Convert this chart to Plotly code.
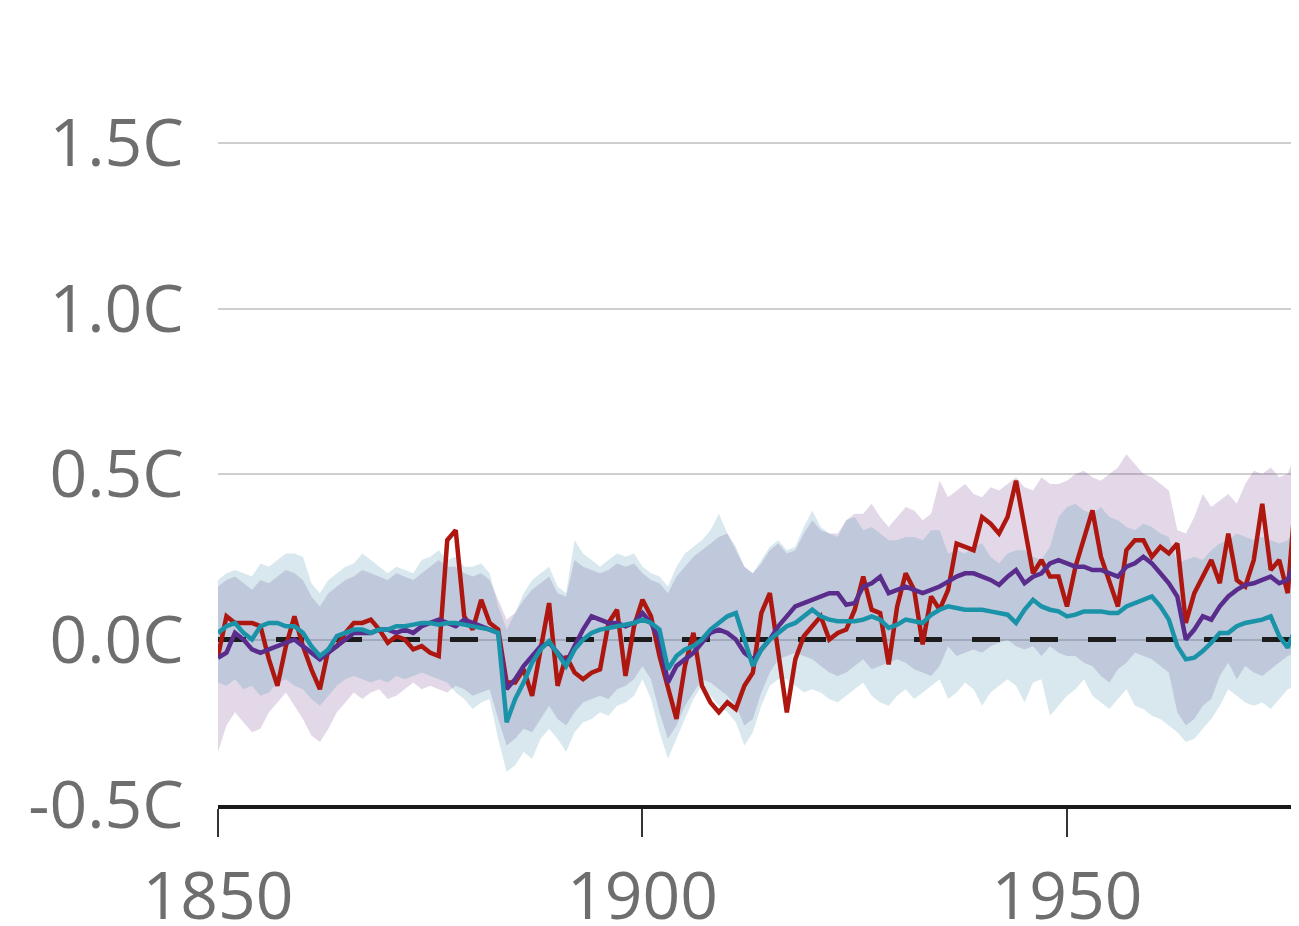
import plotly.graph_objects as go

years = list(range(1850, 1978))

observed = [
    -0.05, 0.07, 0.05, 0.05, 0.05, 0.04, -0.06, -0.14, -0.02, 0.07,
    -0.02, -0.09, -0.15, -0.03, -0.02, 0.02, 0.05, 0.05, 0.06, 0.03,
    -0.01, 0.01, 0.00, -0.03, -0.02, -0.04, -0.05, 0.30, 0.33, 0.07,
    0.03, 0.12, 0.05, 0.03, -0.13, -0.13, -0.09, -0.17, -0.03, 0.11,
    -0.14, -0.05, -0.10, -0.12, -0.10, -0.09, 0.05, 0.09, -0.11, 0.04,
    0.12, 0.07, -0.05, -0.15, -0.24, -0.08, 0.02, -0.14, -0.19, -0.22,
    -0.19, -0.21, -0.14, -0.10, 0.08, 0.14, -0.04, -0.22, -0.06, 0.01,
    0.04, 0.07, 0.00, 0.02, 0.03, 0.09, 0.19, 0.09, 0.08, -0.075,
    0.10, 0.20, 0.15, -0.015, 0.13, 0.09, 0.15, 0.29, 0.28, 0.27,
    0.37, 0.35, 0.32, 0.37, 0.48, 0.33, 0.20, 0.24, 0.19, 0.19,
    0.10, 0.22, 0.30, 0.39, 0.25, 0.17, 0.10, 0.27, 0.30, 0.30,
    0.25, 0.28, 0.26, 0.29, 0.05, 0.14, 0.19, 0.24, 0.17, 0.32,
    0.18, 0.16, 0.24, 0.41, 0.21, 0.24, 0.14, 0.46,
]

all_forcing = [
    -0.055, -0.04, 0.02, 0.00, -0.03, -0.04, -0.03, -0.02, -0.01, 0.00,
    -0.02, -0.04, -0.06, -0.04, -0.02, 0.00, 0.02, 0.02, 0.02, 0.03,
    0.03, 0.02, 0.03, 0.02, 0.04, 0.05, 0.06, 0.05, 0.04, 0.06,
    0.05, 0.04, 0.03, 0.02, -0.15, -0.12, -0.08, -0.05, -0.02, -0.01,
    -0.04, -0.07, -0.02, 0.03, 0.07, 0.06, 0.05, 0.05, 0.04, 0.05,
    0.08, 0.05, 0.00, -0.13, -0.08, -0.06, -0.04, -0.01, 0.02, 0.03,
    0.02, 0.00, -0.04, -0.06, -0.03, 0.00, 0.04, 0.07, 0.10, 0.11,
    0.12, 0.13, 0.14, 0.14, 0.105, 0.11, 0.16, 0.17, 0.19, 0.14,
    0.15, 0.16, 0.15, 0.14, 0.15, 0.16, 0.175, 0.19, 0.20, 0.20,
    0.19, 0.18, 0.165, 0.19, 0.21, 0.17, 0.19, 0.20, 0.23, 0.24,
    0.23, 0.22, 0.22, 0.21, 0.21, 0.20, 0.19, 0.22, 0.23, 0.25,
    0.23, 0.20, 0.17, 0.13, 0.00, 0.03, 0.07, 0.06, 0.10, 0.13,
    0.15, 0.165, 0.17, 0.18, 0.19, 0.17, 0.18, 0.24,
]

natural = [
    0.02, 0.04, 0.05, 0.02, 0.00, 0.04, 0.05, 0.05, 0.04, 0.04,
    0.02, -0.02, -0.05, -0.03, 0.01, 0.02, 0.03, 0.03, 0.02, 0.03,
    0.03, 0.04, 0.04, 0.045, 0.05, 0.05, 0.045, 0.05, 0.05, 0.045,
    0.04, 0.035, 0.03, 0.02, -0.25, -0.18, -0.13, -0.07, -0.03, -0.005,
    -0.04, -0.08, -0.03, 0.00, 0.02, 0.03, 0.035, 0.04, 0.045, 0.05,
    0.06, 0.05, 0.03, -0.09, -0.05, -0.03, -0.02, 0.00, 0.03, 0.05,
    0.07, 0.08, 0.00, -0.08, -0.03, 0.00, 0.02, 0.04, 0.05, 0.07,
    0.09, 0.07, 0.06, 0.055, 0.055, 0.055, 0.06, 0.07, 0.06, 0.035,
    0.045, 0.06, 0.055, 0.05, 0.075, 0.09, 0.10, 0.095, 0.09, 0.09,
    0.09, 0.085, 0.08, 0.075, 0.05, 0.09, 0.12, 0.10, 0.09, 0.085,
    0.07, 0.075, 0.085, 0.085, 0.085, 0.08, 0.08, 0.10, 0.11, 0.12,
    0.13, 0.10, 0.06, -0.02, -0.06, -0.055, -0.035, -0.01, 0.02, 0.02,
    0.04, 0.05, 0.055, 0.06, 0.07, 0.01, -0.025, 0.04,
]

natural_hi = [
    0.18, 0.20, 0.21, 0.20, 0.19, 0.23, 0.22, 0.24, 0.26, 0.26,
    0.25, 0.17, 0.14, 0.18, 0.20, 0.22, 0.23, 0.26, 0.24, 0.22,
    0.20, 0.22, 0.21, 0.20, 0.24, 0.25, 0.27, 0.24, 0.25, 0.22,
    0.22, 0.23, 0.20, 0.10, 0.03, 0.08, 0.14, 0.18, 0.20, 0.22,
    0.16, 0.14, 0.30, 0.26, 0.24, 0.22, 0.24, 0.26, 0.25, 0.26,
    0.22, 0.20, 0.19, 0.16, 0.22, 0.26, 0.28, 0.30, 0.33, 0.38,
    0.32, 0.28, 0.22, 0.20, 0.24, 0.28, 0.30, 0.27, 0.28, 0.34,
    0.39, 0.34, 0.32, 0.31, 0.36, 0.37, 0.33, 0.34, 0.32, 0.30,
    0.30, 0.31, 0.31, 0.30, 0.33, 0.33, 0.26, 0.27, 0.26, 0.28,
    0.29, 0.25, 0.23, 0.26, 0.27, 0.27, 0.25, 0.24, 0.28, 0.37,
    0.40, 0.41, 0.39, 0.38, 0.40, 0.37, 0.36, 0.34, 0.33, 0.35,
    0.34, 0.32, 0.31, 0.23, 0.24, 0.25, 0.24, 0.27, 0.29, 0.30,
    0.32, 0.31, 0.30, 0.31, 0.30, 0.29, 0.30, 0.34,
]

natural_lo = [
    -0.13, -0.14, -0.12, -0.15, -0.14, -0.17, -0.16, -0.13, -0.12, -0.14,
    -0.15, -0.18, -0.20, -0.17, -0.14, -0.12, -0.11, -0.12, -0.13, -0.12,
    -0.13, -0.11, -0.12, -0.11, -0.10, -0.11, -0.12, -0.13, -0.16, -0.18,
    -0.21, -0.19, -0.18, -0.30, -0.40, -0.38, -0.34, -0.36, -0.30, -0.27,
    -0.30, -0.34, -0.28, -0.25, -0.24, -0.22, -0.23, -0.20, -0.19, -0.17,
    -0.12, -0.18, -0.28, -0.36, -0.30, -0.24, -0.18, -0.14, -0.17, -0.20,
    -0.22, -0.25, -0.32, -0.28, -0.20, -0.14, -0.12, -0.12, -0.14, -0.16,
    -0.15, -0.16, -0.18, -0.19, -0.17, -0.15, -0.13, -0.17, -0.19, -0.20,
    -0.17, -0.15, -0.18, -0.16, -0.14, -0.12, -0.18, -0.16, -0.13, -0.15,
    -0.20, -0.16, -0.14, -0.12, -0.14, -0.19, -0.13, -0.12, -0.23, -0.20,
    -0.17, -0.15, -0.12, -0.17, -0.19, -0.21, -0.18, -0.15, -0.20, -0.21,
    -0.23, -0.24, -0.26, -0.28, -0.31, -0.30, -0.27, -0.24, -0.20, -0.15,
    -0.17, -0.19, -0.20, -0.19, -0.21, -0.18, -0.15, -0.14,
]

all_hi = [
    0.16, 0.18, 0.19, 0.17, 0.15, 0.18, 0.17, 0.19, 0.21, 0.20,
    0.18, 0.13, 0.10, 0.14, 0.16, 0.18, 0.19, 0.21, 0.20, 0.19,
    0.18, 0.20, 0.19, 0.18, 0.20, 0.22, 0.24, 0.22, 0.22, 0.20,
    0.19, 0.20, 0.18, 0.12, 0.06, 0.08, 0.12, 0.15, 0.17, 0.19,
    0.14, 0.13, 0.24, 0.22, 0.21, 0.20, 0.21, 0.23, 0.22, 0.23,
    0.20, 0.18, 0.17, 0.14, 0.19, 0.22, 0.25, 0.27, 0.29, 0.31,
    0.32, 0.27, 0.22, 0.20, 0.23, 0.27, 0.29, 0.26, 0.27, 0.32,
    0.36, 0.33, 0.32, 0.32, 0.36, 0.38, 0.38, 0.41, 0.37, 0.34,
    0.37, 0.40, 0.39, 0.36, 0.38, 0.48, 0.43, 0.45, 0.47, 0.44,
    0.43, 0.46, 0.45, 0.47, 0.49, 0.46, 0.45, 0.49, 0.47, 0.47,
    0.48, 0.50, 0.51, 0.49, 0.48, 0.50, 0.52, 0.56, 0.53, 0.50,
    0.49, 0.47, 0.45, 0.33, 0.32, 0.37, 0.44, 0.40, 0.42, 0.44,
    0.41, 0.47, 0.51, 0.50, 0.52, 0.49, 0.50, 0.57,
]

all_lo = [
    -0.34, -0.26, -0.22, -0.25, -0.28, -0.27, -0.22, -0.19, -0.16, -0.20,
    -0.24, -0.29, -0.31, -0.27, -0.22, -0.19, -0.16, -0.18, -0.16, -0.15,
    -0.18, -0.17, -0.15, -0.13, -0.15, -0.14, -0.15, -0.16, -0.14, -0.15,
    -0.17, -0.16, -0.15, -0.24, -0.32, -0.30, -0.27, -0.28, -0.24, -0.20,
    -0.24, -0.26, -0.22, -0.19, -0.18, -0.17, -0.18, -0.15, -0.14, -0.12,
    -0.08, -0.12, -0.22, -0.30, -0.26, -0.20, -0.16, -0.12, -0.13, -0.15,
    -0.17, -0.20, -0.26, -0.24, -0.16, -0.10, -0.06, -0.05, -0.04, -0.05,
    -0.06, -0.08, -0.10, -0.11, -0.10, -0.08, -0.06, -0.09, -0.08, -0.07,
    -0.06, -0.07, -0.09, -0.10, -0.11, -0.08, -0.02, -0.05, -0.04, -0.03,
    -0.04, -0.02, -0.01, 0.00, -0.02, -0.03, -0.02, -0.05, -0.02, -0.04,
    -0.05, -0.05, -0.07, -0.08, -0.11, -0.13, -0.09, -0.07, -0.04, -0.05,
    -0.06, -0.08, -0.10, -0.22, -0.26, -0.24, -0.20, -0.18, -0.11, -0.07,
    -0.12, -0.08, -0.10, -0.11, -0.09, -0.07, -0.05, -0.04,
]

y_ticks = [-0.5, 0.0, 0.5, 1.0, 1.5]
y_labels = ["-0.5C", "0.0C", "0.5C", "1.0C", "1.5C"]
x_ticks = [1850, 1900, 1950]
x_labels = ["1850", "1900", "1950"]

for arr in (observed, all_forcing, natural, natural_hi, natural_lo, all_hi, all_lo):
    assert len(arr) == len(years), len(arr)

fig = go.Figure()

# uncertainty bands
fig.add_trace(go.Scatter(x=years, y=all_lo, mode="lines", line=dict(width=0),
                         showlegend=False, hoverinfo="skip"))
fig.add_trace(go.Scatter(x=years, y=all_hi, mode="lines", line=dict(width=0),
                         fill="tonexty", fillcolor="rgba(110,60,140,0.20)",
                         showlegend=False, hoverinfo="skip"))
fig.add_trace(go.Scatter(x=years, y=natural_lo, mode="lines", line=dict(width=0),
                         showlegend=False, hoverinfo="skip"))
fig.add_trace(go.Scatter(x=years, y=natural_hi, mode="lines", line=dict(width=0),
                         fill="tonexty", fillcolor="rgba(60,140,170,0.20)",
                         showlegend=False, hoverinfo="skip"))

# zero dashed baseline
fig.add_trace(go.Scatter(x=[years[0], 1978], y=[0, 0], mode="lines",
                         line=dict(color="#1c1c1c", width=5, dash="28px,30px"),
                         showlegend=False, hoverinfo="skip"))

# series lines
fig.add_trace(go.Scatter(x=years, y=observed, mode="lines",
                         line=dict(color="#ad1710", width=4.5), name="Observed"))
fig.add_trace(go.Scatter(x=years, y=all_forcing, mode="lines",
                         line=dict(color="#5a2d8c", width=4.5), name="All forcings"))
fig.add_trace(go.Scatter(x=years, y=natural, mode="lines",
                         line=dict(color="#1a93a9", width=4.5), name="Natural"))

fig.update_layout(
    width=1291, height=918,
    margin=dict(l=210, r=0, t=0, b=121, autoexpand=False),
    paper_bgcolor="white", plot_bgcolor="white",
    showlegend=False,
    font=dict(family="Open Sans", size=66, color="#6e6e6e"),
    xaxis=dict(
        range=[1850, 1977.33],
        tickvals=x_ticks, ticktext=x_labels,
        showgrid=False, zeroline=False, automargin=False,
        showline=True, linecolor="#1a1a1a", linewidth=4,
        ticks="outside", ticklen=28, tickwidth=2, tickcolor="#333333",
        ticklabelstandoff=3,
    ),
    yaxis=dict(
        range=[-0.5, 1.908],
        tickvals=y_ticks, ticktext=y_labels,
        showgrid=True, gridcolor="#cfcfcf", gridwidth=2,
        zeroline=False, showline=False, automargin=False,
        ticks="outside", ticklen=20, tickcolor="rgba(0,0,0,0)",
    ),
)

fig.write_html("out.html")
